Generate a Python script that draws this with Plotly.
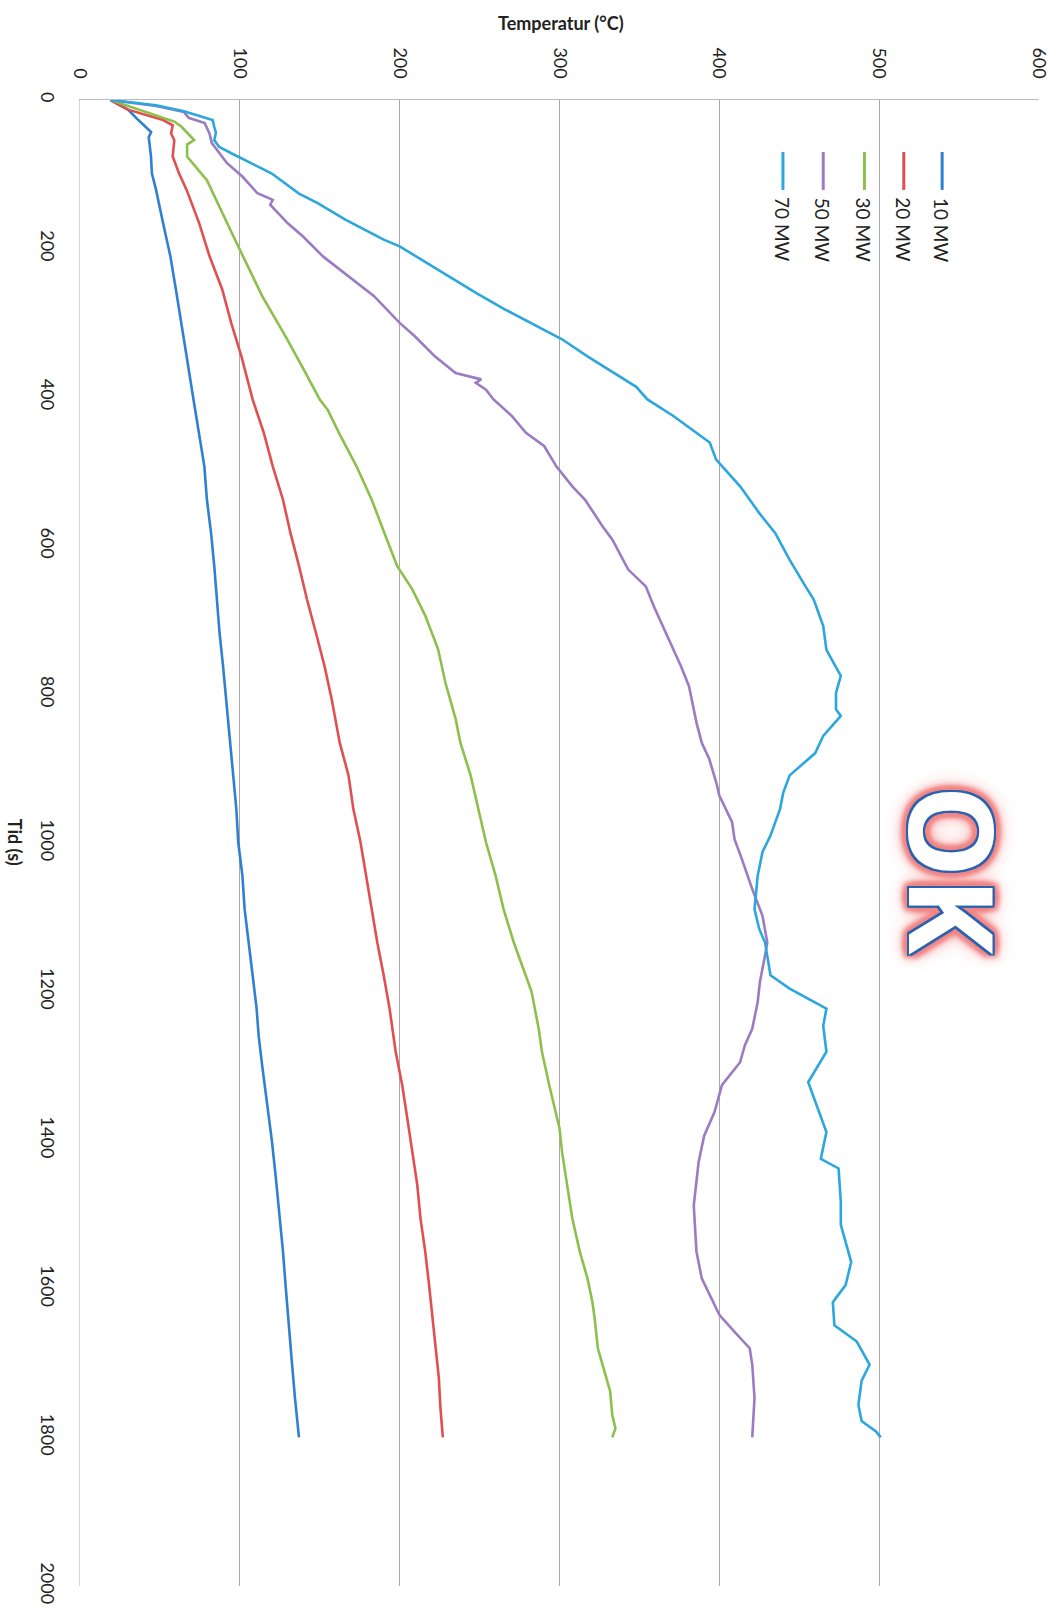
import plotly.graph_objects as go

# Gas temperature versus time for five fire sizes (chart drawn rotated a quarter turn)
series_names = ["10 MW", "20 MW", "30 MW", "50 MW", "70 MW"]
series_colors = ["#2f80d3", "#e05050", "#8cc04c", "#9b7bc2", "#2ca7dd"]

time_10mw = [0, 13, 27, 36, 43, 50, 76, 99, 121, 166, 210, 255, 300, 345, 403, 448, 493, 538,
             583, 627, 672, 717, 762, 807, 850, 909, 954, 999, 1044, 1089, 1134, 1178, 1223,
             1260, 1300, 1350, 1400, 1450, 1505, 1550, 1600, 1658, 1702, 1747, 1800]
temp_10mw = [19, 30, 36.5, 41, 44.5, 43, 44.4, 45, 47.6, 52, 56.5, 60, 63.5, 66.7, 71, 74.6,
             77.8, 79.4, 82, 84, 85.5, 87.3, 89.5, 91.4, 93.5, 96, 97.8, 99, 101.6, 103, 105.7,
             108, 110.5, 111.8, 114, 117, 120, 122.5, 125, 127, 128.8, 130.8, 132.7, 134.5, 137]

time_20mw = [0, 13, 22, 27, 34, 45, 54, 76, 99, 121, 166, 210, 255, 300, 345, 403, 448, 493,
             538, 583, 627, 672, 717, 762, 807, 865, 909, 954, 999, 1044, 1089, 1134, 1178,
             1223, 1281, 1326, 1371, 1416, 1460, 1505, 1550, 1595, 1640, 1680, 1720, 1760, 1800]
temp_20mw = [19, 30, 44, 52, 58, 57, 59, 58, 62, 66.7, 74.6, 81, 89, 94.6, 101, 108, 115,
             120.6, 127, 131.7, 137, 142, 147.6, 153, 157.5, 162.5, 168, 171, 175.5, 179, 182.5,
             186, 190, 193.7, 197.5, 201.6, 204.8, 208, 211, 213, 216, 218.4, 220.6, 222.5,
             224.5, 225.5, 227]

time_30mw = [0, 16, 29, 36, 54, 60, 76, 108, 166, 179, 264, 318, 363, 403, 417, 448, 493, 538,
             583, 627, 659, 694, 739, 784, 833, 865, 909, 954, 999, 1044, 1089, 1134, 1178,
             1200, 1250, 1281, 1326, 1384, 1416, 1460, 1505, 1550, 1586, 1618, 1640, 1680,
             1702, 1738, 1770, 1788, 1800]
temp_30mw = [19, 41, 59, 63.5, 71.4, 67, 67, 79.4, 92, 95, 114, 128.6, 140, 150, 155, 162,
             173, 182.5, 190.5, 198.4, 208, 216, 224, 228.6, 235, 238, 244.4, 249, 254, 260,
             265, 271.4, 279, 282.5, 287, 289, 293.6, 300, 301.6, 304.8, 308, 312.7, 317.5,
             320.6, 322, 324, 327, 331.7, 333, 335, 333]

time_50mw = [0, 8, 16, 24, 31, 45, 58, 85, 103, 125.5, 134.4, 141, 166, 184, 210.5, 242, 264,
             300, 318, 345, 367.4, 376, 380.7, 390, 403, 425, 448, 466, 493, 520, 538, 574,
             591.4, 632, 645, 654.6, 681.5, 735, 762, 789, 820, 838, 865, 887, 918, 936, 972,
             995, 1021, 1062, 1098, 1134, 1151, 1187, 1214, 1250, 1272, 1295, 1326, 1362,
             1394, 1430, 1488, 1550, 1586, 1613, 1635, 1658, 1680, 1702, 1747, 1800]
temp_50mw = [19, 47.6, 65, 68, 78, 81, 82.5, 92, 101.6, 111, 120.6, 119, 130, 139.7, 152, 171,
             184, 200, 209.5, 222, 235, 251, 247.6, 254, 258.7, 270, 279, 290.5, 298, 308, 316,
             327, 333, 343, 349, 354, 359, 370, 376, 381, 384, 385.7, 389, 393.7, 398, 400,
             408, 409.5, 414, 420.6, 427, 430, 428.6, 425.4, 424, 420.6, 416, 413, 401.6, 397,
             390.5, 387, 384, 385.7, 389, 395, 400, 409.5, 419, 420.6, 422, 420.6]

time_70mw = [0, 7, 15, 27, 36, 44, 54, 63, 72, 83, 99, 126, 139, 161, 188, 197, 229, 260, 282,
             300, 322, 345, 363, 386, 403, 425, 461, 484, 520, 556, 583, 619, 655, 672, 708,
             740, 775, 798, 820, 829, 856, 879, 909, 932, 954, 990, 1012, 1044, 1089, 1116,
             1134, 1178, 1196, 1223, 1246, 1281, 1322, 1349, 1389, 1425, 1438, 1483, 1514,
             1564, 1595, 1618, 1649, 1671, 1702, 1724, 1756, 1778, 1792, 1800]
temp_70mw = [19, 47.6, 65, 83, 84, 85, 84, 87, 95, 105, 120, 137, 149, 166, 190, 200, 224, 248,
             266, 282, 301.6, 317.5, 331, 348, 355, 371, 394, 398, 413, 425, 435, 444, 454, 459,
             465, 467, 476, 473, 473, 476, 465, 460, 444, 440, 438, 432, 427, 424, 422, 425,
             428.6, 432, 444, 467, 465, 467, 455.6, 460, 467, 463.5, 474.6, 476, 476, 482.5,
             479, 471, 472, 486, 494, 489, 487, 489, 498, 501]

series_time = [time_10mw, time_20mw, time_30mw, time_50mw, time_70mw]
series_temp = [temp_10mw, temp_20mw, temp_30mw, temp_50mw, temp_70mw]

temp_ticks = [0, 100, 200, 300, 400, 500, 600]
time_ticks = [0, 200, 400, 600, 800, 1000, 1200, 1400, 1600, 1800, 2000]

FONT = "Lato"

fig = go.Figure()
for name, color, tt, temps in zip(series_names, series_colors, series_time, series_temp):
    fig.add_trace(go.Scatter(
        x=temps, y=tt, mode="lines", name=name,
        line=dict(color=color, width=2.6),
        showlegend=False, hoverinfo="skip",
    ))

fig.update_layout(
    width=1063, height=1616,
    margin=dict(l=80, r=20, t=100, b=28),
    paper_bgcolor="white", plot_bgcolor="white",
    font=dict(family=FONT, size=18, color="#222222"),
    xaxis=dict(
        range=[0, 600], side="top", tickvals=temp_ticks, ticktext=[str(v) for v in temp_ticks],
        tickangle=90, showgrid=True, gridcolor="#a9a9a9", gridwidth=1,
        zeroline=False, showline=True, linecolor="#bdbdbd", linewidth=1,
        ticks="", ticklabelstandoff=14,
    ),
    yaxis=dict(
        range=[2000, 0], tickvals=time_ticks, ticktext=[str(v) for v in time_ticks],
        tickangle=90, showgrid=False, zeroline=False,
        showline=True, linecolor="#d6d6d6", linewidth=1,
        ticks="", ticklabelstandoff=16,
    ),
)

# White lettering with a thin blue outline and a soft pink halo
outline = "#2a62b0"
glow = "#f08585"
dirs = [(-1, -1), (1, -1), (-1, 1), (1, 1), (0, -1), (0, 1), (-1, 0), (1, 0)]
outline_layers = [f"{2 * dx}px {2 * dy}px 0 {outline}" for dx, dy in dirs]
halo_layers = [f"{5 * dx}px {5 * dy}px 5px {glow}" for dx, dy in dirs]
fade_layers = [f"0 0 14px {glow}", "0 0 20px #f5a5a5", "0 0 26px #f8c4c4"]
ok_shadow = ", ".join(outline_layers + halo_layers + fade_layers)

annotations = [
    dict(text="<b>Temperatur (°C)</b>", xref="paper", yref="paper", x=0.5016, y=1.0517,
         showarrow=False, font=dict(family=FONT, size=18, color="#222222"),
         xanchor="center", yanchor="middle"),
    dict(text="<b>Tid (s)</b>", xref="paper", yref="paper", x=-0.0675, y=0.5007,
         showarrow=False, textangle=90, font=dict(family=FONT, size=18, color="#222222"),
         xanchor="center", yanchor="middle"),
    dict(text="OK", xref="paper", yref="paper", x=0.912, y=0.482, showarrow=False,
         textangle=90, xanchor="center", yanchor="middle",
         font=dict(family="Open Sans", size=116, color="white", weight=700,
                   shadow=ok_shadow)),
]

# Rotated legend: short vertical line with the label below it
legend_x = [0.899, 0.859, 0.818, 0.775, 0.733]
shapes = []
for name, color, lx in zip(series_names, series_colors, legend_x):
    shapes.append(dict(type="line", xref="paper", yref="paper", x0=lx, x1=lx,
                       y0=0.9395, y1=0.965, line=dict(color=color, width=3)))
    annotations.append(dict(text=name, xref="paper", yref="paper", x=lx, y=0.9125,
                            showarrow=False, textangle=90, xanchor="center",
                            yanchor="middle",
                            font=dict(family=FONT, size=19, color="#222222")))

fig.update_layout(annotations=annotations, shapes=shapes)

fig.write_html("out.html")
